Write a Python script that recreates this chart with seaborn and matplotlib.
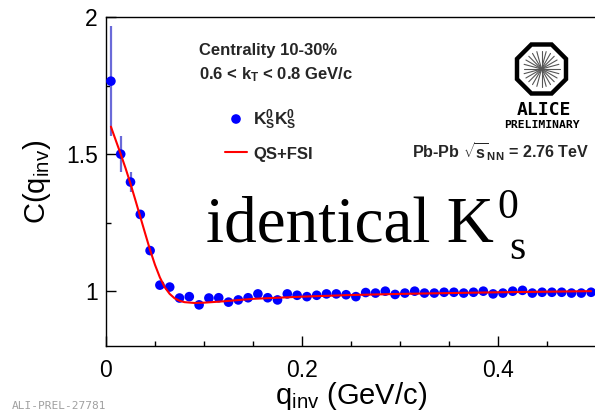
import numpy as np
import pandas as pd
import matplotlib
matplotlib.use("Agg")
import matplotlib.pyplot as plt
from matplotlib.patches import RegularPolygon
from matplotlib.ticker import FixedLocator, MultipleLocator
import seaborn as sns

# ---------------- data ----------------
q_points = [0.005, 0.015, 0.025, 0.035, 0.045, 0.055, 0.065, 0.075, 0.085, 0.095,
            0.105, 0.115, 0.125, 0.135, 0.145, 0.155, 0.165, 0.175, 0.185, 0.195,
            0.205, 0.215, 0.225, 0.235, 0.245, 0.255, 0.265, 0.275, 0.285, 0.295,
            0.305, 0.315, 0.325, 0.335, 0.345, 0.355, 0.365, 0.375, 0.385, 0.395,
            0.405, 0.415, 0.425, 0.435, 0.445, 0.455, 0.465, 0.475, 0.485, 0.495]
c_points = [1.766, 1.500, 1.398, 1.280, 1.148, 1.022, 1.015, 0.975, 0.980, 0.950,
            0.975, 0.976, 0.960, 0.968, 0.976, 0.990, 0.976, 0.968, 0.990, 0.985,
            0.980, 0.985, 0.990, 0.990, 0.987, 0.980, 0.995, 0.993, 1.000, 0.988,
            0.993, 1.000, 0.993, 0.993, 0.996, 0.996, 0.993, 0.996, 1.000, 0.990,
            0.993, 1.000, 1.003, 0.993, 0.996, 0.996, 0.996, 0.993, 0.993, 0.996]
c_errors = [0.200, 0.066, 0.037, 0.016, 0.010, 0.008, 0.007, 0.006, 0.006, 0.005,
            0.005, 0.005, 0.005, 0.005, 0.005, 0.005, 0.005, 0.005, 0.005, 0.005,
            0.005, 0.005, 0.005, 0.005, 0.005, 0.005, 0.005, 0.005, 0.005, 0.005,
            0.005, 0.005, 0.005, 0.005, 0.005, 0.005, 0.005, 0.005, 0.005, 0.005,
            0.005, 0.005, 0.005, 0.005, 0.005, 0.005, 0.005, 0.005, 0.005, 0.005]

q_fit = [0.005, 0.010, 0.015, 0.020, 0.025, 0.030, 0.035, 0.040, 0.045, 0.050,
         0.055, 0.060, 0.065, 0.070, 0.075, 0.080, 0.090, 0.100, 0.120, 0.150,
         0.200, 0.250, 0.300, 0.350, 0.400, 0.450, 0.495]
c_fit = [1.600, 1.550, 1.500, 1.448, 1.392, 1.332, 1.271, 1.210, 1.150, 1.096,
         1.050, 1.014, 0.990, 0.974, 0.965, 0.960, 0.957, 0.958, 0.963, 0.972,
         0.980, 0.986, 0.990, 0.993, 0.996, 0.998, 1.000]

x_ticks = [0.0, 0.2, 0.4]
x_ticklabels = ["0", "0.2", "0.4"]
y_ticks = [1.0, 1.5, 2.0]
y_ticklabels = ["1", "1.5", "2"]

df_pts = pd.DataFrame({"q": q_points, "C": c_points, "err": c_errors})
df_fit = pd.DataFrame({"q": q_fit, "C": c_fit})

# ---------------- style ----------------
sns.set_theme(style="ticks")
plt.rcParams["font.family"] = ["Liberation Sans", "DejaVu Sans"]
plt.rcParams["mathtext.fontset"] = "custom"
plt.rcParams["mathtext.rm"] = "Liberation Sans"
plt.rcParams["mathtext.it"] = "Liberation Sans"
plt.rcParams["mathtext.bf"] = "Liberation Sans:bold"

W, H = 595, 415
fig = plt.figure(figsize=(W / 100, H / 100), dpi=100)
fig.patch.set_facecolor("white")

def fx(px):
    return px / W

def fy(py):
    return 1 - py / H

ax = fig.add_axes([fx(106), fy(346), (596 - 106) / W, (346 - 17) / H])
ax.set_facecolor("white")

# error bars
ax.errorbar(df_pts["q"], df_pts["C"], yerr=df_pts["err"], fmt="none",
            ecolor="#6a6ad8", elinewidth=1.6, capsize=0, zorder=2)
# points
sns.scatterplot(data=df_pts, x="q", y="C", ax=ax, color="#0000ff", s=48,
                edgecolor="none", linewidth=0, zorder=3, legend=False)
# fit curve
sns.lineplot(data=df_fit, x="q", y="C", ax=ax, color="#ff0000", linewidth=1.5,
             zorder=4, legend=False, estimator=None, sort=False)

ax.set_xlim(0, 0.5)
ax.set_ylim(0.8, 2.0)
ax.xaxis.set_major_locator(FixedLocator(x_ticks))
ax.set_xticklabels(x_ticklabels)
ax.xaxis.set_minor_locator(MultipleLocator(0.05))
ax.yaxis.set_major_locator(FixedLocator(y_ticks))
ax.set_yticklabels(y_ticklabels)
ax.yaxis.set_minor_locator(MultipleLocator(0.25))
ax.tick_params(which="major", direction="in", length=7, width=1.0,
               labelsize=16.5, color="black", labelcolor="black")
ax.tick_params(which="minor", direction="in", length=3.5, width=1.0, color="black")
ax.tick_params(axis="x", which="major", pad=9)
ax.tick_params(axis="y", which="major", pad=6)
for sp in ax.spines.values():
    sp.set_visible(True)
    sp.set_color("black")
    sp.set_linewidth(1.0)

ax.set_xlabel(r"q$_{\mathrm{inv}}$ (GeV/c)", fontsize=21, labelpad=-1, color="black")
ax.set_ylabel(r"C(q$_{\mathrm{inv}}$)", fontsize=21, labelpad=9, color="black")

# ---------------- annotations ----------------
fig.text(fx(199), fy(55), "Centrality 10-30%", fontsize=12, fontweight="bold",
         ha="left", va="baseline")
fig.text(fx(199), fy(79), r"0.6 < k$_{\mathbf{T}}$ < 0.8 GeV/c", fontsize=12,
         fontweight="bold", ha="left", va="baseline")

# legend
ax.scatter([fx(236)], [fy(119)], transform=fig.transFigure, s=48, color="#0000ff",
           edgecolor="none", clip_on=False, zorder=5)
fig.text(fx(253), fy(125), r"$\mathbf{K^0_S K^0_S}$", fontsize=12.5,
         ha="left", va="baseline")
fig.add_artist(plt.Line2D([fx(225), fx(247)], [fy(152), fy(152)],
                          transform=fig.transFigure, color="#ff0000", linewidth=1.5))
fig.text(fx(253), fy(159), "QS+FSI", fontsize=12, fontweight="bold",
         ha="left", va="baseline")

fig.text(fx(412), fy(158), r"Pb-Pb $\sqrt{\mathbf{s}}_{\mathbf{NN}}$ = 2.76 TeV",
         fontsize=11.6, fontweight="bold", ha="left", va="baseline")

# big serif text
serif = ["Liberation Serif", "DejaVu Serif"]
fig.text(fx(206), fy(241), "identical K", fontsize=47, color="black",
         family=serif, ha="left", va="baseline")
fig.text(fx(497), fy(218), "0", fontsize=30, color="black",
         family=serif, ha="left", va="baseline")
fig.text(fx(509), fy(259), "s", fontsize=30, color="black",
         family=serif, ha="left", va="baseline")

# ALICE logo
lax = fig.add_axes([fx(500), fy(132), 90 / W, 100 / H])
lax.set_xlim(500, 590)
lax.set_ylim(H - 132, H - 32)
lax.axis("off")
cx, cy = 541.5, H - 69
apothem = 24.5
lax.add_patch(RegularPolygon((cx, cy), numVertices=8,
                             radius=apothem / np.cos(np.pi / 8),
                             orientation=np.pi / 8, facecolor="white",
                             edgecolor="black", linewidth=3.2))
for k in range(24):
    a = k * 2 * np.pi / 24
    lax.plot([cx, cx + 18 * np.cos(a)], [cy, cy + 18 * np.sin(a)],
             color="#555555", linewidth=0.8)
fig.text(fx(544), fy(115), "ALICE", fontsize=13, family="DejaVu Sans Mono",
         fontweight="bold", ha="center", va="baseline", color="black")
fig.text(fx(541.5), fy(128), "PRELIMINARY", fontsize=8.2, family="DejaVu Sans Mono",
         fontweight="bold", ha="center", va="baseline", color="black")

fig.text(fx(12), fy(401), "ALI-PREL-27781", fontsize=8.0, family="DejaVu Sans Mono",
         color="#a0a0a0", ha="left", va="top")

fig.savefig("out.png", dpi=100)
